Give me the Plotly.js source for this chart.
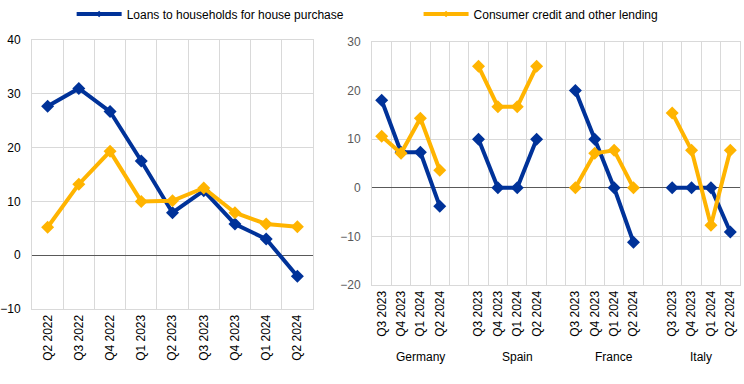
<!DOCTYPE html>
<html>
<head>
<meta charset="utf-8">
<script src="https://cdn.plot.ly/plotly-3.0.1.min.js"></script>
<style>html,body{margin:0;padding:0;background:#fff;}#chart{width:744px;height:384px;}</style>
</head>
<body>
<div id="chart"></div>
<script>
// Left panel: euro area
const leftQuarters = ['Q2 2022','Q3 2022','Q4 2022','Q1 2023','Q2 2023','Q3 2023','Q4 2023','Q1 2024','Q2 2024'];
const leftHouse    = [27.7, 31.0, 26.7, 17.5, 7.9, 12.0, 5.8, 3.0, -3.9];
const leftConsumer = [5.2, 13.2, 19.3, 10.0, 10.1, 12.5, 7.9, 5.8, 5.3];

// Right panel: countries
const countries = ['Germany','Spain','France','Italy'];
const rightQuarters = ['Q3 2023','Q4 2023','Q1 2024','Q2 2024'];
const houseByCountry = {
  Germany: [18.0, 7.3, 7.3, -3.8],
  Spain:   [10.0, 0.0, 0.0, 10.0],
  France:  [20.0, 10.0, 0.0, -11.2],
  Italy:   [0.0, 0.0, 0.0, -9.1]
};
const consumerByCountry = {
  Germany: [10.6, 7.1, 14.3, 3.6],
  Spain:   [25.0, 16.7, 16.7, 25.0],
  France:  [0.0, 7.1, 7.7, 0.0],
  Italy:   [15.4, 7.7, -7.7, 7.7]
};
const seriesNames = ['Loans to households for house purchase', 'Consumer credit and other lending'];

const BLUE = '#003299', YELLOW = '#FFB400';
const FONT = 'Liberation Sans, Arial, sans-serif';
const GRID = '#d9d9d9';

// Right-panel positions: each country occupies 4 slots followed by a blank slot
const slot = 5;
let rx = [], rHouse = [], rCons = [], tickvals = [], ticktext = [];
countries.forEach((c, g) => {
  rightQuarters.forEach((q, i) => {
    const pos = g * slot + i;
    rx.push(pos); rHouse.push(houseByCountry[c][i]); rCons.push(consumerByCountry[c][i]);
    tickvals.push(pos); ticktext.push(q);
  });
  if (g < countries.length - 1) { rx.push(g * slot + 4); rHouse.push(null); rCons.push(null); }
});
const nSlots = countries.length * slot - 1;

const lineStyle = (color) => ({color: color, width: 4});
const markerStyle = (color) => ({symbol: 'diamond', size: 10, color: color});

const traces = [
  {x: leftQuarters, y: leftHouse, type: 'scatter', mode: 'lines+markers', showlegend: false,
   line: lineStyle(BLUE), marker: markerStyle(BLUE), xaxis: 'x', yaxis: 'y'},
  {x: leftQuarters, y: leftConsumer, type: 'scatter', mode: 'lines+markers', showlegend: false,
   line: lineStyle(YELLOW), marker: markerStyle(YELLOW), xaxis: 'x', yaxis: 'y'},
  {x: rx, y: rHouse, type: 'scatter', mode: 'lines+markers', showlegend: false, connectgaps: false,
   line: lineStyle(BLUE), marker: markerStyle(BLUE), xaxis: 'x2', yaxis: 'y2'},
  {x: rx, y: rCons, type: 'scatter', mode: 'lines+markers', showlegend: false, connectgaps: false,
   line: lineStyle(YELLOW), marker: markerStyle(YELLOW), xaxis: 'x2', yaxis: 'y2'},
  // legend-only entries with small markers
  {x: [null], y: [null], type: 'scatter', mode: 'lines+markers', name: seriesNames[0],
   line: {color: BLUE, width: 4}, marker: {symbol: 'diamond', size: 5, color: BLUE}, xaxis: 'x', yaxis: 'y', legend: 'legend'},
  {x: [null], y: [null], type: 'scatter', mode: 'lines+markers', name: seriesNames[1],
   line: {color: YELLOW, width: 4}, marker: {symbol: 'diamond', size: 5, color: YELLOW}, xaxis: 'x', yaxis: 'y', legend: 'legend2'}
];

const annotations = countries.map((c, g) => ({
  x: g < countries.length - 1 ? g * slot + 2 : g * slot + 1.5,
  xref: 'x2', y: -0.178, yref: 'paper', text: c, showarrow: false,
  xanchor: 'center', yanchor: 'middle', font: {family: FONT, size: 12, color: '#000'}
}));

const legendBase = {orientation: 'h', xanchor: 'left', y: 1.097, yanchor: 'middle', itemwidth: 45,
  font: {family: FONT, size: 12, color: '#000'}, bgcolor: 'rgba(0,0,0,0)', borderwidth: 0};

const layout = {
  width: 744, height: 384,
  margin: {l: 32, r: 4, t: 40, b: 75, autoexpand: false},
  paper_bgcolor: '#fff', plot_bgcolor: '#fff',
  font: {family: FONT, size: 12, color: '#000'},
  showlegend: true,
  legend: Object.assign({}, legendBase, {x: 0.056}),
  legend2: Object.assign({}, legendBase, {x: 0.546}),
  xaxis: {domain: [0, 0.3969], anchor: 'y', type: 'category', tickson: 'boundaries',
          showgrid: true, gridcolor: GRID, gridwidth: 1, ticks: '', tickangle: -90,
          showline: true, linecolor: GRID, linewidth: 1, mirror: true, zeroline: false,
          tickfont: {family: FONT, size: 12, color: '#000'}, range: [-0.5, 8.5]},
  yaxis: {domain: [0, 1], anchor: 'x', range: [-10, 40], dtick: 10, showgrid: true, gridcolor: GRID,
          zeroline: true, zerolinecolor: '#595959', zerolinewidth: 1, ticks: '', ticklabelstandoff: 8,
          showline: true, linecolor: GRID, linewidth: 1, mirror: true,
          tickfont: {family: FONT, size: 12, color: '#000'}},
  xaxis2: {domain: [0.4802, 1], anchor: 'y2', range: [-0.5, nSlots - 0.5],
           tickmode: 'array', tickvals: tickvals, ticktext: ticktext, tickangle: -90,
           showgrid: false, zeroline: false, ticks: '',
           showline: true, linecolor: GRID, linewidth: 1, mirror: true,
           minor: {tickmode: 'linear', tick0: -0.5, dtick: 1, showgrid: true, gridcolor: GRID, gridwidth: 1, ticks: ''},
           tickfont: {family: FONT, size: 12, color: '#000'}},
  yaxis2: {domain: [0.0892, 0.9926], anchor: 'x2', range: [-20, 30], dtick: 10, showgrid: true, gridcolor: GRID,
           zeroline: true, zerolinecolor: '#595959', zerolinewidth: 1, ticks: '', ticklabelstandoff: 8,
           showline: true, linecolor: GRID, linewidth: 1, mirror: true,
           tickfont: {family: FONT, size: 12, color: '#595959'}},
  annotations: annotations
};

Plotly.newPlot('chart', traces, layout, {displayModeBar: false, staticPlot: true});
</script>
</body>
</html>
